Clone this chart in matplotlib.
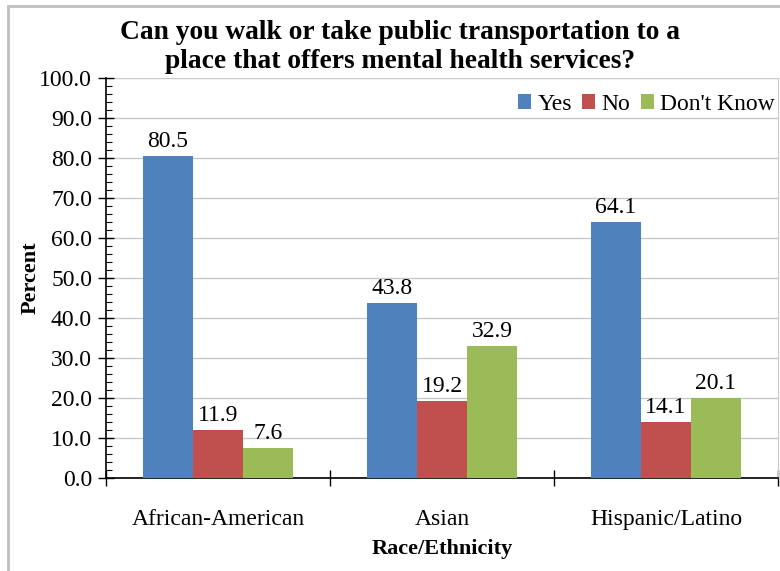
import matplotlib
matplotlib.use("Agg")
import matplotlib.pyplot as plt
import numpy as np
from matplotlib.patches import Rectangle

categories = ["African-American", "Asian", "Hispanic/Latino"]
series_names = ["Yes", "No", "Don't Know"]
yes = [80.5, 43.8, 64.1]
no = [11.9, 19.2, 14.1]
dont_know = [7.6, 32.9, 20.1]
colors = ["#4F81BD", "#C0504D", "#9BBB59"]
yticks = [0, 10, 20, 30, 40, 50, 60, 70, 80, 90, 100]

plt.rcParams['font.family'] = ['Liberation Serif', 'DejaVu Serif']

fig = plt.figure(figsize=(7.8, 5.71), dpi=100)
ax = fig.add_axes([106/780, 1-478/571, (778-106)/780, (478-78)/571])

x = np.arange(len(categories)) + 0.5
w = 50/224
for i, (vals, name) in enumerate(zip([yes, no, dont_know], series_names)):
    pos = x + (i-1)*w
    ax.bar(pos, vals, width=w, color=colors[i], label=name, zorder=3)
    for p, v in zip(pos, vals):
        ax.text(p, v + 1.0, f"{v:.1f}", ha='center', va='bottom', fontsize=17, zorder=4)

ax.set_xlim(0, 3)
ax.set_ylim(0, 100)
ax.set_yticks(yticks)
ax.set_yticklabels([f"{t:.1f}" for t in yticks], fontsize=17)
ax.set_yticks(np.arange(0, 101, 2), minor=True)
ax.yaxis.grid(True, color='#C8C8C8', linewidth=1, zorder=0)
ax.set_xticks([0, 1, 2, 3])
ax.set_xticklabels([])
ax.set_xticks(x, minor=True)
ax.set_xticklabels(categories, minor=True, fontsize=17)
ax.tick_params(axis='x', which='minor', length=0, pad=22)
ax.tick_params(axis='x', which='major', direction='inout', length=12, width=1)
ax.tick_params(axis='y', which='major', direction='inout', length=12, width=1, pad=4)
ax.tick_params(axis='y', which='minor', direction='in', length=4, width=0.8)

ax.spines['right'].set_color('#C8C8C8')
ax.spines['top'].set_visible(False)
ax.spines['left'].set_linewidth(1.2)
ax.spines['bottom'].set_linewidth(1.2)

ax.set_ylabel("Percent", fontsize=16, fontweight='bold', labelpad=-1)
ax.set_xlabel("Race/Ethnicity", fontsize=16, fontweight='bold', labelpad=7)

leg = ax.legend(loc='upper right', bbox_to_anchor=(1.012, 0.99), ncol=3, frameon=False,
                fontsize=17, handlelength=0.55, handleheight=0.55, handletextpad=0.25,
                columnspacing=0.45, borderaxespad=0.1)

fig.text(400/780, 1-47/571, "Can you walk or take public transportation to a\nplace that offers mental health services?",
         ha='center', va='center', fontsize=19.8, fontweight='bold', linespacing=1.25)

fig.patches.append(Rectangle((8/780, -0.1), 1.2, 1-6/571+0.1, transform=fig.transFigure,
                             fill=False, edgecolor='#BFBFBF', linewidth=2))

fig.savefig("out.png", dpi=100)
